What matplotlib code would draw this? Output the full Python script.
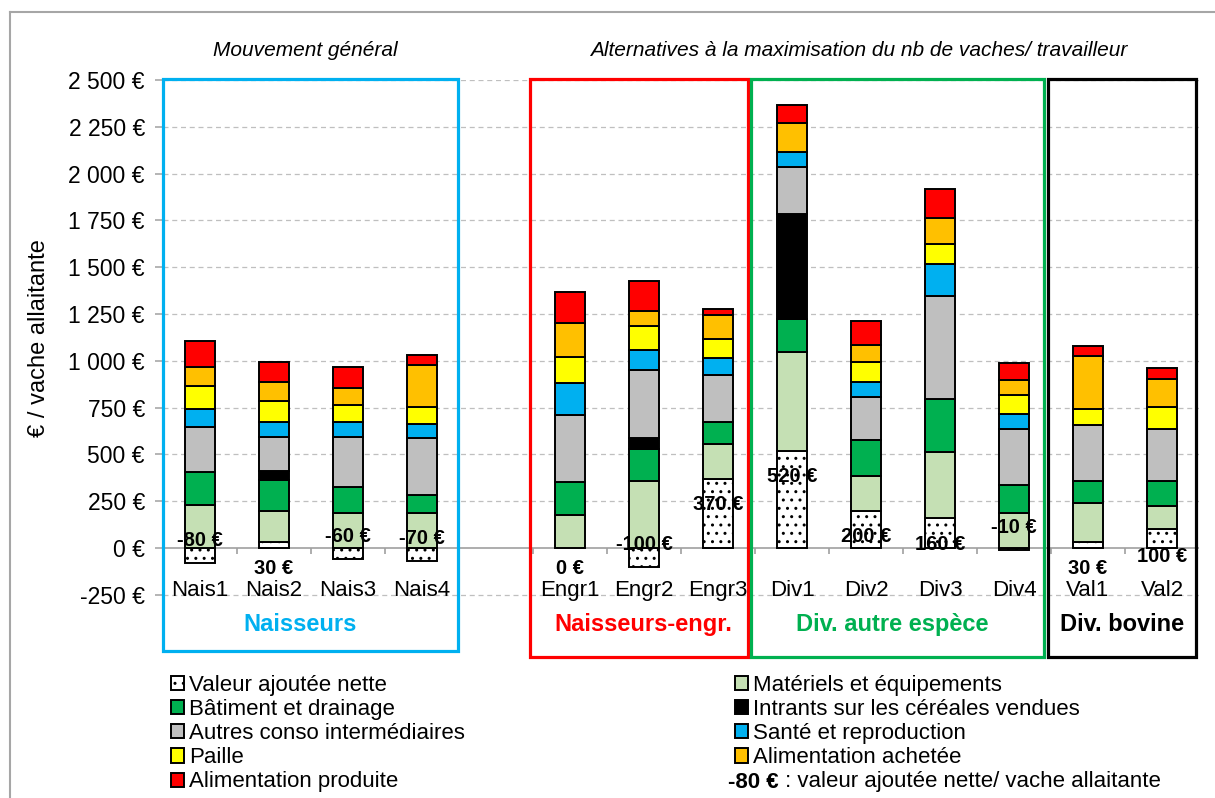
import matplotlib
matplotlib.use("Agg")
import matplotlib.pyplot as plt
import numpy as np
from matplotlib.patches import Patch, Rectangle
from matplotlib.lines import Line2D
from matplotlib.ticker import FuncFormatter

# ---- data -------------------------------------------------------------
categories = ["Nais1", "Nais2", "Nais3", "Nais4", "Engr1", "Engr2", "Engr3",
              "Div1", "Div2", "Div3", "Div4", "Val1", "Val2"]
slots = [0, 1, 2, 3, 5, 6, 7, 8, 9, 10, 11, 12, 13]

valeur_ajoutee_nette = [-80, 30, -60, -70, 0, -100, 370, 520, 200, 160, -10, 30, 100]
materiels = [230, 165, 185, 185, 175, 360, 185, 525, 185, 355, 185, 210, 125]
batiment = [175, 170, 140, 100, 180, 170, 120, 180, 190, 280, 150, 120, 135]
intrants = [0, 45, 0, 0, 0, 55, 0, 560, 0, 0, 0, 0, 0]
autres_conso = [240, 185, 270, 300, 355, 365, 250, 250, 230, 550, 300, 295, 275]
sante = [100, 80, 80, 80, 170, 105, 90, 80, 80, 170, 80, 0, 0]
paille = [120, 110, 90, 90, 140, 130, 100, 0, 110, 110, 100, 90, 120]
alim_achetee = [100, 100, 90, 220, 180, 80, 130, 155, 90, 140, 80, 280, 150]
alim_produite = [140, 110, 110, 55, 170, 160, 30, 95, 125, 155, 95, 55, 55]

series_names = ["Valeur ajoutée nette", "Matériels et équipements", "Bâtiment et drainage",
                "Intrants sur les céréales vendues", "Autres conso intermédiaires",
                "Santé et reproduction", "Paille", "Alimentation achetée",
                "Alimentation produite"]
series_values = [valeur_ajoutee_nette, materiels, batiment, intrants, autres_conso,
                 sante, paille, alim_achetee, alim_produite]
series_colors = ["white", "#C5E0B4", "#00B050", "#000000", "#BFBFBF",
                 "#00B0F0", "#FFFF00", "#FFC000", "#FF0000"]

group_names = ["Naisseurs", "Naisseurs-engr.", "Div. autre espèce", "Div. bovine"]
group_colors = ["#00B0F0", "#FF0000", "#00B050", "#000000"]
section_titles = ["Mouvement général",
                  "Alternatives à la maximisation du nb de vaches/ travailleur"]

# ---- figure -----------------------------------------------------------
plt.rcParams['font.family'] = ['Liberation Sans', 'DejaVu Sans']
plt.rcParams['hatch.linewidth'] = 1.0

W, H = 1215, 798
fig = plt.figure(figsize=(W / 100, H / 100), dpi=100)
ax = fig.add_axes([163 / W, 1 - 660.3 / H, (1199 - 163) / W, (660.3 - 80) / H])
ax.set_xlim(-0.5, 13.5)
ax.set_ylim(-600, 2500)

# figure frame (left and top edges visible)
fig.add_artist(Line2D([10 / W, 10 / W], [0, 1 - 12 / H], transform=fig.transFigure,
                      color="#A6A6A6", lw=1.5))
fig.add_artist(Line2D([10 / W, 1], [1 - 12 / H, 1 - 12 / H], transform=fig.transFigure,
                      color="#A6A6A6", lw=1.5))

# grid
for t in np.arange(-250, 2501, 250):
    if t == 0:
        continue
    ax.axhline(t, color="#BFBFBF", lw=0.9, ls=(0, (4, 3)), zorder=0)
ax.axhline(0, color="#A0A0A0", lw=1.2, zorder=1)
ax.vlines(np.arange(0.5, 13.0, 1.0), -30, 0, color="#A0A0A0", lw=1.2, zorder=1)

# stacked bars
bar_w = 0.405
pos_bottom = np.zeros(len(categories))
neg_bottom = np.zeros(len(categories))
for name, vals, col in zip(series_names, series_values, series_colors):
    vals = np.array(vals, dtype=float)
    for i, v in enumerate(vals):
        if v == 0:
            continue
        if v > 0:
            b = pos_bottom[i]
            pos_bottom[i] += v
        else:
            b = neg_bottom[i]
            neg_bottom[i] += v
        ax.bar(slots[i], v, bottom=b, width=bar_w, color=col, edgecolor="black",
               linewidth=1.4, hatch=".." if name == series_names[0] else None, zorder=3)

# value labels (net added value per cow)
label_y = [39, -107, 60, 48, -112, 21, 230, 380, 60, 21, 107, -107, -43]
for i, v in enumerate(valeur_ajoutee_nette):
    ax.text(slots[i], label_y[i], f"{v} €", ha="center", va="center",
            fontsize=14.5, fontweight="bold", zorder=5)

# category labels
for i, c in enumerate(categories):
    ax.text(slots[i], -226, c, ha="center", va="center", fontsize=16, clip_on=False)

# group boxes and names
box_edges = [(-0.5, 3.49, -550), (4.46, 7.41, -585), (7.44, 11.41, -585), (11.46, 13.46, -585)]
name_x = [1.35, 5.99, 9.36, 12.46]
for (x0, x1, yb), gname, gcol, nx in zip(box_edges, group_names, group_colors, name_x):
    ax.add_patch(Rectangle((x0, yb), x1 - x0, 2505 - yb, fill=False, edgecolor=gcol,
                           lw=2.3, clip_on=False, zorder=6))
    ax.text(nx, -411, gname, ha="center", va="center", fontsize=17,
            fontweight="bold", color=gcol, clip_on=False)

# section titles
ax.text(1.42, 2660, section_titles[0], ha="center", va="center", fontsize=15,
        style="italic", clip_on=False)
ax.text(8.9, 2660, section_titles[1], ha="center", va="center", fontsize=15,
        style="italic", clip_on=False)

# axes styling
for s in ax.spines.values():
    s.set_visible(False)
ax.set_xticks([])
ax.set_yticks(np.arange(-250, 2501, 250))
ax.yaxis.set_major_formatter(FuncFormatter(
    lambda v, p: f"{int(round(v)):,}".replace(",", " ") + " €"))
ax.tick_params(axis="y", length=6, width=1.1, color="#A0A0A0", labelsize=16.5, pad=7)
fig.text(39 / W, 1 - 338 / H, "€ / vache allaitante", rotation=90, ha="center",
         va="center", fontsize=17)

# legend
handles = [Patch(facecolor=c, edgecolor="black", linewidth=1.4,
                 hatch=".." if k == 0 else None)
           for k, c in enumerate(series_colors)]
left_idx = [0, 2, 4, 6, 8]
right_idx = [1, 3, 5, 7]
leg_kw = dict(frameon=False, fontsize=16, handlelength=0.6, handleheight=0.6,
              handletextpad=0.2, labelspacing=0.14, borderpad=0, borderaxespad=0,
              loc="upper left")
leg1 = fig.legend([handles[k] for k in left_idx], [series_names[k] for k in left_idx],
                  bbox_to_anchor=(171 / W, 1 - 675 / H), **leg_kw)
leg2 = fig.legend([handles[k] for k in right_idx], [series_names[k] for k in right_idx],
                  bbox_to_anchor=(735 / W, 1 - 675 / H), **leg_kw)

fig.canvas.draw()
renderer = fig.canvas.get_renderer()
t1 = fig.text(728 / W, 1 - 782 / H, f"{valeur_ajoutee_nette[0]} €", fontsize=16,
              fontweight="bold", ha="left", va="center")
ext = t1.get_window_extent(renderer)
fig.text(ext.x1 / W, 1 - 782 / H, " : valeur ajoutée nette/ vache allaitante",
         fontsize=16, ha="left", va="center")

fig.savefig("out.png", dpi=100)
